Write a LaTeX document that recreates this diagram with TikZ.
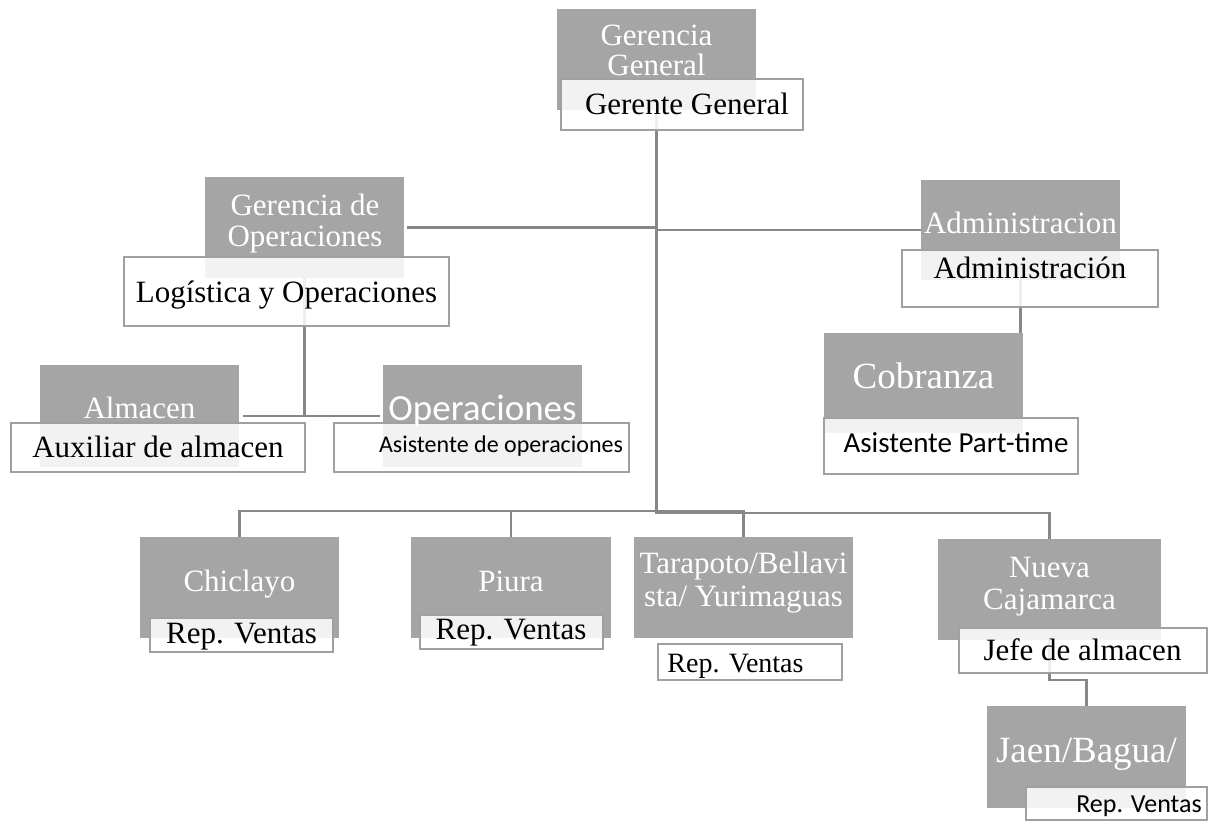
\documentclass[tikz,border=0pt]{standalone}
\usepackage{fontspec}
\setmainfont{Liberation Serif}
\newfontfamily\calib{Carlito}
\usetikzlibrary{backgrounds}
\pgfdeclarelayer{paper}
\pgfsetlayers{paper,background,main}
\definecolor{boxgrey}{RGB}{165,165,165}
\definecolor{edgegrey}{RGB}{160,160,160}
\definecolor{wiregrey}{RGB}{135,135,135}
\tikzset{
  greybox/.style={rectangle, fill=boxgrey, inner sep=0pt, outer sep=0pt},
  whitebox/.style={rectangle, fill=white, fill opacity=0.86, draw=edgegrey,
    draw opacity=1, line width=2pt, inner sep=0pt, outer sep=0pt},
  headtxt/.style={text=white, inner sep=0pt, align=center},
  roletxt/.style={text=black, inner sep=0pt},
  wire/.style={draw=wiregrey, line width=2.2pt},
}
% box from (x1,y1) to (x2,y2): \orgbox{style}{name}{x1}{y1}{x2}{y2}
\newcommand{\orgbox}[6]{%
  \node[#1, minimum width={#5-#3}, minimum height={#6-#4}] (#2)
    at ({(#3+#5)/2},{(#4+#6)/2}) {};}
\begin{document}
\begin{tikzpicture}[x=1pt,y=-1pt]
\begin{pgfonlayer}{paper}
  \path[fill=white] (0,0) rectangle (1211,821);
\end{pgfonlayer}
\path[use as bounding box] (0,0) rectangle (1211,821);

% department headers
\orgbox{greybox}{gGG}{557}{9}{756}{110}
\orgbox{greybox}{gGO}{205}{177}{404}{278}
\orgbox{greybox}{gAD}{921}{180}{1120}{280}
\orgbox{greybox}{gAL}{40}{365}{239}{467}
\orgbox{greybox}{gOP}{383}{365}{582}{467}
\orgbox{greybox}{gCO}{824}{333}{1023}{433}
\orgbox{greybox}{gCH}{140}{537}{339}{638}
\orgbox{greybox}{gPI}{411}{537}{611}{638}
\orgbox{greybox}{gTA}{634}{537}{853}{638}
\orgbox{greybox}{gNC}{938}{539}{1161}{640}
\orgbox{greybox}{gJA}{987}{706}{1186}{808}

% role boxes
\orgbox{whitebox}{wGG}{561}{79}{803}{130}
\orgbox{whitebox}{wLO}{124}{257}{449}{326}
\orgbox{whitebox}{wAD}{902}{250}{1158}{307}
\orgbox{whitebox}{wAU}{11}{423}{305}{472}
\orgbox{whitebox}{wAS}{334}{423}{629}{472}
\orgbox{whitebox}{wAP}{824}{418}{1078}{474}
\orgbox{whitebox}{wCH}{150}{618}{333}{652}
\orgbox{whitebox}{wPI}{420}{615}{603}{649}
\orgbox{whitebox}{wTA}{658}{644}{842}{680}
\orgbox{whitebox}{wJE}{959}{628}{1207}{673}
\orgbox{whitebox}{wJA}{1026}{787}{1207}{820}

% header texts
\node[headtxt, font=\fontsize{31}{30}\selectfont] (tGG) at (656.5,50.1) {Gerencia\\General};
\node[headtxt, font=\fontsize{31}{31}\selectfont] (tGO) at (305,223.5) {Gerencia de\\Operaciones};
\node[headtxt, font=\fontsize{31}{31}\selectfont, anchor=base] (tAD) at (1020.5,234) {Administracion};
\node[headtxt, font=\fontsize{31}{31}\selectfont, anchor=base] (tAL) at (139.5,418) {Almacen};
\node[headtxt, font=\calib\fontsize{37}{37}\selectfont, anchor=base] (tOP) at (482.5,420) {Operaciones};
\node[headtxt, font=\fontsize{37}{37}\selectfont, anchor=base] (tCO) at (923.5,388) {Cobranza};
\node[headtxt, font=\fontsize{31}{31}\selectfont, anchor=base] (tCH) at (239.5,591) {Chiclayo};
\node[headtxt, font=\fontsize{31}{31}\selectfont, anchor=base] (tPI) at (511,591) {Piura};
\node[headtxt, font=\fontsize{31}{33}\selectfont] (tTA) at (743.5,582.5) {Tarapoto/Bellavi\\sta/ Yurimaguas};
\node[headtxt, font=\fontsize{31}{32}\selectfont] (tNC) at (1049.5,586.3) {Nueva\\Cajamarca};
\node[headtxt, font=\fontsize{37}{37}\selectfont, anchor=base] (tJA) at (1086.5,762) {Jaen/Bagua/};

% role texts
\node[roletxt, font=\fontsize{31}{31}\selectfont, anchor=base] (rGG) at (687,115) {Gerente General};
\node[roletxt, font=\fontsize{31}{31}\selectfont, anchor=base] (rLO) at (286.5,302) {Logística y Operaciones};
\node[roletxt, font=\fontsize{31}{31}\selectfont, anchor=base] (rAD) at (1030,279) {Administración};
\node[roletxt, font=\fontsize{31}{31}\selectfont, anchor=base] (rAU) at (158,457) {Auxiliar de almacen};
\node[roletxt, font=\calib\fontsize{24}{24}\selectfont, anchor=base] (rAS) at (501,452) {Asistente de operaciones};
\node[roletxt, font=\calib\fontsize{29}{29}\selectfont, anchor=base] (rAP) at (956,452) {Asistente Part-time};
\node[roletxt, font=\fontsize{31}{31}\selectfont, anchor=base] (rCH) at (241.5,643) {Rep. Ventas};
\node[roletxt, font=\fontsize{31}{31}\selectfont, anchor=base] (rPI) at (511,639) {Rep. Ventas};
\node[roletxt, font=\fontsize{28}{28}\selectfont, anchor=base] (rTA) at (735.5,672) {Rep. Ventas};
\node[roletxt, font=\fontsize{31}{31}\selectfont, anchor=base] (rJE) at (1082.5,660) {Jefe de almacen};
\node[roletxt, font=\calib\fontsize{26}{26}\selectfont, anchor=base] (rJA) at (1139,812) {Rep. Ventas};

% junction points of the connectors
\coordinate (busR) at (1049.5,513);
\coordinate (busT) at (743.5,511);
\coordinate (opsJ) at (304.5,416);
\coordinate (jefJ) at (1086.5,680);

\begin{pgfonlayer}{background}
  \draw[wire] (gGG.center) |- (busR) -- ([yshift=-3pt]gNC.north);
  \draw[wire] ([yshift=-4pt]gCH.north) |- (busT) -- ([yshift=-3pt]gTA.north);
  \draw[wire] ([yshift=-4pt]gPI.north) -- (gPI.north |- busT);
  \draw[wire] ([xshift=3pt]gGO.east) -- (gGG.center |- gGO.east);
  \draw[wire] (gGG.center |- gAD.west) -- (gAD.west);
  \draw[wire] (gGO.center) -- (opsJ);
  \draw[wire] ([xshift=4pt]gAL.east) -- ([xshift=-3pt]gOP.west);
  \draw[wire] (gAD.center) -- (gAD.center |- gCO.north);
  \draw[wire] (gNC.center) |- (jefJ) -- ([yshift=-3pt]gJA.north);
\end{pgfonlayer}
\end{tikzpicture}
\end{document}
